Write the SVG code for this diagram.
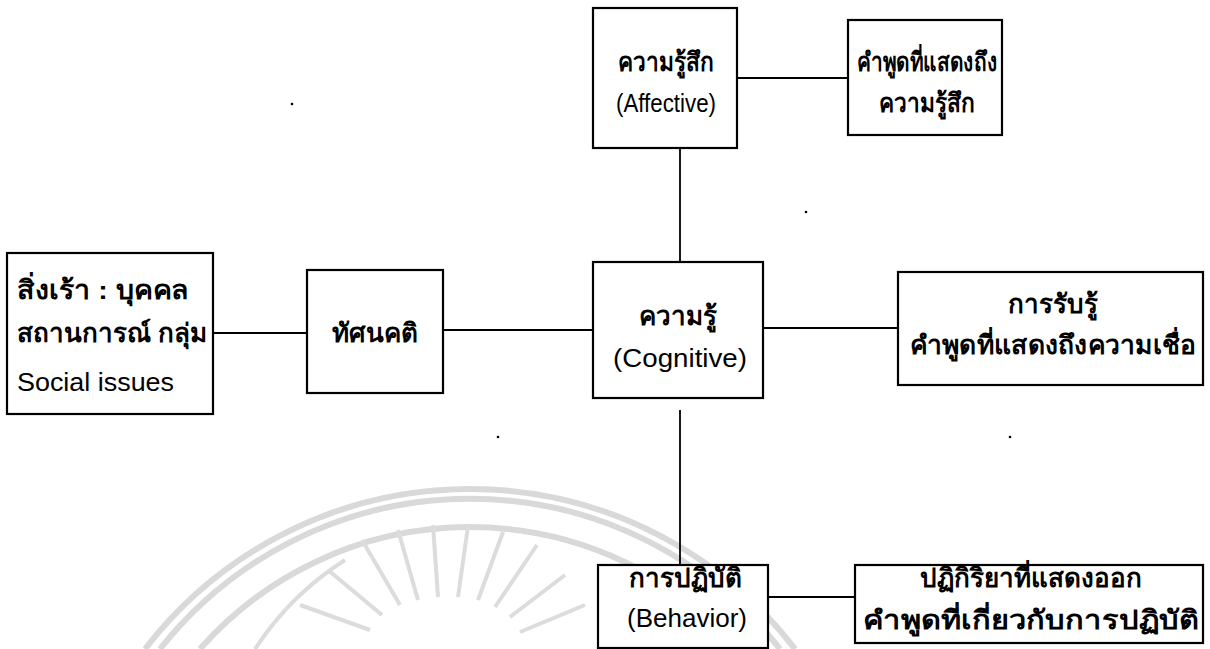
<svg xmlns="http://www.w3.org/2000/svg" width="1210" height="649" viewBox="0 0 1210 649">
<style>
.box{fill:#fff;stroke:#000;stroke-width:2.2}
.ln{stroke:#000;stroke-width:1.8;fill:none}
.t{font-family:"Liberation Sans","Noto Sans",sans-serif;font-size:26px;fill:#000}
.th{font-family:"Liberation Sans","Noto Sans",sans-serif;font-size:26px;fill:#000;font-weight:bold}
.wm{stroke:#d9d9d9;fill:none;stroke-width:6}
.ray{stroke:#dcdcdc;stroke-width:4;fill:none}
</style>
<rect width="1210" height="649" fill="#fff"/>
<g id="watermark">
<path class="wm" d="M145,649 A410,410 0 0 1 795,649"/>
<path class="wm" d="M160,649 A395,395 0 0 1 780,649"/>
<path class="wm" d="M200,649 A360,360 0 0 1 740,649"/>
<path class="ray" d="M255,649 A300,300 0 0 1 345,560"/>
<line class="ray" x1="400" y1="605" x2="362" y2="540"/>
<line class="ray" x1="418" y1="600" x2="398" y2="530"/>
<line class="ray" x1="438" y1="597" x2="433" y2="525"/>
<line class="ray" x1="458" y1="597" x2="468" y2="526"/>
<line class="ray" x1="478" y1="600" x2="503" y2="532"/>
<line class="ray" x1="495" y1="607" x2="537" y2="545"/>
<line class="ray" x1="382" y1="615" x2="328" y2="570"/>
<line class="ray" x1="510" y1="617" x2="565" y2="575"/>
<line class="ray" x1="370" y1="630" x2="300" y2="605"/>
<line class="ray" x1="520" y1="632" x2="585" y2="605"/>
</g>
<g id="specks" fill="#000">
<circle cx="292" cy="104" r="1.3"/>
<circle cx="806" cy="212" r="1.3"/>
<circle cx="498" cy="437" r="1.3"/>
<circle cx="1010" cy="437" r="1.3"/>
</g>
<g id="connectors">
<line class="ln" x1="213" y1="333" x2="307" y2="333"/>
<line class="ln" x1="443" y1="330" x2="593" y2="330"/>
<line class="ln" x1="763" y1="328" x2="898" y2="328"/>
<line class="ln" x1="737" y1="78" x2="848" y2="78"/>
<line class="ln" x1="680" y1="148" x2="680" y2="262"/>
<line class="ln" x1="680" y1="410" x2="680" y2="565"/>
<line class="ln" x1="768" y1="597" x2="855" y2="597"/>
</g>
<g id="n-stimulus">
<rect class="box" x="7" y="253" width="206" height="161"/>
<text class="th" x="17" y="299" textLength="172" lengthAdjust="spacingAndGlyphs">สิ่งเร้า : บุคคล</text>
<text class="th" x="17" y="342">สถานการณ์ กลุ่ม</text>
<text class="t" x="17" y="391" textLength="157" lengthAdjust="spacingAndGlyphs">Social issues</text>
</g>
<g id="n-attitude">
<rect class="box" x="307" y="270" width="136" height="123"/>
<text class="th" x="375" y="342" text-anchor="middle">ทัศนคติ</text>
</g>
<g id="n-cognitive">
<rect class="box" x="593" y="262" width="170" height="136"/>
<text class="th" x="678" y="325" text-anchor="middle">ความรู้</text>
<text class="t" x="680" y="367" text-anchor="middle" textLength="134" lengthAdjust="spacingAndGlyphs">(Cognitive)</text>
</g>
<g id="n-affective">
<rect class="box" x="593" y="8" width="144" height="140"/>
<text class="th" x="666" y="71" text-anchor="middle" textLength="96" lengthAdjust="spacingAndGlyphs">ความรู้สึก</text>
<text class="t" x="666" y="112" text-anchor="middle" textLength="100" lengthAdjust="spacingAndGlyphs">(Affective)</text>
</g>
<g id="n-affective-words">
<rect class="box" x="848" y="20" width="154" height="115"/>
<text class="th" x="927" y="71" text-anchor="middle" textLength="140" lengthAdjust="spacingAndGlyphs">คำพูดที่แสดงถึง</text>
<text class="th" x="927" y="112" text-anchor="middle" textLength="96" lengthAdjust="spacingAndGlyphs">ความรู้สึก</text>
</g>
<g id="n-belief">
<rect class="box" x="898" y="272" width="305" height="113"/>
<text class="th" x="1053" y="313" text-anchor="middle">การรับรู้</text>
<text class="th" x="1053" y="354" text-anchor="middle" textLength="287" lengthAdjust="spacingAndGlyphs">คำพูดที่แสดงถึงความเชื่อ</text>
</g>
<g id="n-behavior">
<rect class="box" x="598" y="565" width="170" height="83"/>
<text class="th" x="685" y="587" text-anchor="middle">การปฏิบัติ</text>
<text class="t" x="687" y="627" text-anchor="middle">(Behavior)</text>
</g>
<g id="n-behavior-words">
<rect class="box" x="855" y="565" width="348" height="78"/>
<text class="th" x="1031" y="587" text-anchor="middle">ปฏิกิริยาที่แสดงออก</text>
<text class="th" x="1031" y="629" text-anchor="middle" textLength="336" lengthAdjust="spacingAndGlyphs">คำพูดที่เกี่ยวกับการปฏิบัติ</text>
</g>
</svg>
